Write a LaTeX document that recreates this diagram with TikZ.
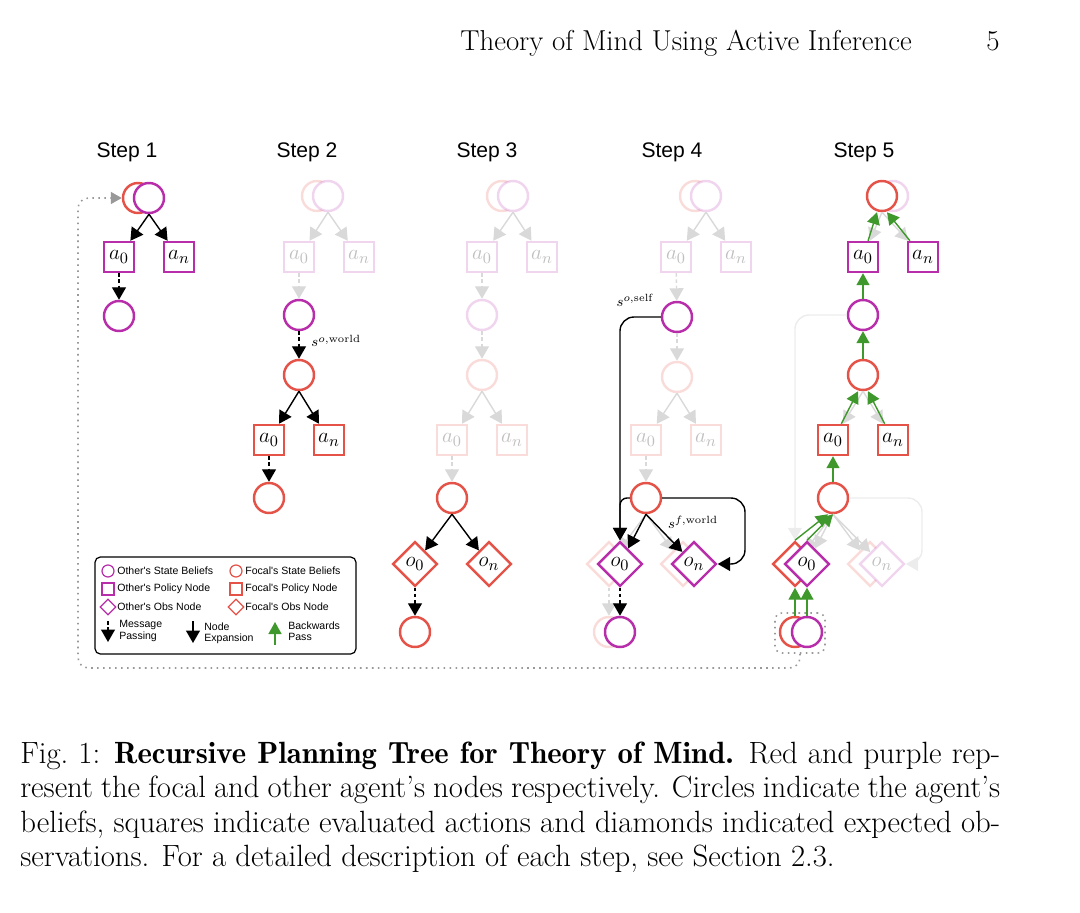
\documentclass[tikz,border=0pt]{standalone}
\usepackage{fontspec}
\newfontfamily\helv{Liberation Sans}
\newfontfamily\demi{lmromandemi10-regular.otf}
\usetikzlibrary{positioning, arrows.meta, shapes.geometric}
\definecolor{othc}{RGB}{184,46,170}
\definecolor{focc}{RGB}{228,82,72}
\definecolor{bpc}{RGB}{62,152,44}

\begin{document}
\begin{tikzpicture}[
            x=0.02cm, y=-0.02cm,
            oc/.style={circle, draw=othc, line width=1.4pt, fill=white, minimum size=0.6cm, inner sep=0pt},
            fc/.style={oc, draw=focc},
            osq/.style={rectangle, draw=othc, line width=1.4pt, fill=white, minimum size=0.6cm, inner sep=0pt, font=\fontsize{13}{15}\selectfont},
            fsq/.style={osq, draw=focc},
            odia/.style={diamond, draw=othc, line width=1.4pt, fill=white, minimum size=0.9cm, inner sep=0pt, font=\fontsize{13}{15}\selectfont},
            fdia/.style={odia, draw=focc},
            faded/.style={draw opacity=0.2, text opacity=0.25},
            expand/.style={-{Triangle[length=2.5mm, width=2.8mm]}, line width=0.8pt},
            msg/.style={expand, dash pattern=on 2pt off 1.5pt},
            fexp/.style={expand, gray!30},
            fmsg/.style={msg, gray!30},
            back/.style={-{Triangle[length=2.4mm, width=2.6mm]}, line width=0.8pt, bpc},
            dotloop/.style={gray!80, line width=0.9pt, dash pattern=on 0.9pt off 2.5pt},
            steplbl/.style={font=\helv\fontsize{12}{14}\selectfont},
            lbl/.style={font=\fontsize{8.5}{10}\selectfont, inner sep=1pt},
            lgtext/.style={font=\helv\fontsize{6}{6.4}\selectfont, anchor=west, align=left, inner sep=0pt}
        ]
            \useasboundingbox (0,0) rectangle (1080,913);
            \node[font=\fontsize{16.4}{18}\selectfont, anchor=base west, inner sep=0pt] (runhead) at (460,50) {Theory of Mind Using Active Inference};
            \node[font=\fontsize{16.4}{18}\selectfont, anchor=base east, inner sep=0pt] (pagenum) at (1000,50) {5};

            % step 1
            \node[steplbl] (st1) at (127,152) {Step 1};
            \node[fc] (s1fr) at (138,198) {};
            \node[oc] (s1or) at (149,198) {};
            \node[osq] (s1a0) at (119,257) {$a_0$};
            \node[osq] (s1an) at (179,257) {$a_n$};
            \node[oc] (s1ob) at (119,316) {};
            \draw[expand] (s1or.south) -- (s1a0);
            \draw[expand] (s1or.south) -- (s1an);
            \draw[msg] (s1a0) -- (s1ob);

            % step 2
            \node[steplbl] (st2) at (307,152) {Step 2};
            \node[fc, faded] (s2fr) at (317,196) {};
            \node[oc, faded] (s2or) at (328,196) {};
            \node[osq, faded] (s2a0) at (299,257) {$a_0$};
            \node[osq, faded] (s2an) at (359,257) {$a_n$};
            \node[oc] (s2ob) at (299,315) {};
            \node[fc] (s2fb) at (299,375) {};
            \node[fsq] (s2b0) at (269,440) {$a_0$};
            \node[fsq] (s2bn) at (329,440) {$a_n$};
            \node[fc] (s2fe) at (269,498) {};
            \draw[fexp] (s2or.south) -- (s2a0);
            \draw[fexp] (s2or.south) -- (s2an);
            \draw[fmsg] (s2a0) -- (s2ob);
            \draw[msg] (s2ob) -- node[lbl, right=2mm, pos=0.35] (s2lbl) {$s^{o,\mathrm{world}}$} (s2fb);
            \draw[expand] (s2fb.south) -- (s2b0);
            \draw[expand] (s2fb.south) -- (s2bn);
            \draw[msg] (s2b0) -- (s2fe);

            % step 3
            \node[steplbl] (st3) at (487,152) {Step 3};
            \node[fc, faded] (s3fr) at (502,196) {};
            \node[oc, faded] (s3or) at (513,196) {};
            \node[osq, faded] (s3a0) at (482,257) {$a_0$};
            \node[osq, faded] (s3an) at (542,257) {$a_n$};
            \node[oc, faded] (s3ob) at (482,315) {};
            \node[fc, faded] (s3fb) at (482,375) {};
            \node[fsq, faded] (s3b0) at (452,440) {$a_0$};
            \node[fsq, faded] (s3bn) at (512,440) {$a_n$};
            \node[fc] (s3fe) at (452,498) {};
            \node[fdia] (s3o0) at (415,564) {$o_0$};
            \node[fdia] (s3on) at (489,564) {$o_n$};
            \node[fc] (s3ff) at (415,632) {};
            \draw[fexp] (s3or.south) -- (s3a0);
            \draw[fexp] (s3or.south) -- (s3an);
            \draw[fmsg] (s3a0) -- (s3ob);
            \draw[fmsg] (s3ob) -- (s3fb);
            \draw[fexp] (s3fb.south) -- (s3b0);
            \draw[fexp] (s3fb.south) -- (s3bn);
            \draw[fmsg] (s3b0) -- (s3fe);
            \draw[expand] (s3fe.south) -- (s3o0);
            \draw[expand] (s3fe.south) -- (s3on);
            \draw[msg] (s3o0) -- (s3ff);

            % step 4
            \node[steplbl] (st4) at (672,152) {Step 4};
            \node[fc, faded] (s4fr) at (695,196) {};
            \node[oc, faded] (s4or) at (706,196) {};
            \node[osq, faded] (s4a0) at (676,257) {$a_0$};
            \node[osq, faded] (s4an) at (736,257) {$a_n$};
            \node[oc] (s4ob) at (677,317) {};
            \node[fc, faded] (s4fb) at (677,377) {};
            \node[fsq, faded] (s4b0) at (646,440) {$a_0$};
            \node[fsq, faded] (s4bn) at (706,440) {$a_n$};
            \node[fc] (s4fe) at (646,498) {};
            \node[fdia, faded] (s4fo0) at (609,564) {};
            \node[fdia, faded] (s4fon) at (683,564) {};
            \draw[fexp] (s4fe.south) -- (s4fo0);
            \draw[fexp] (s4fe.south) -- (s4fon);
            \node[odia] (s4oo0) at (620,564) {$o_0$};
            \node[odia] (s4oon) at (694,564) {$o_n$};
            \node[fc, faded] (s4ffb) at (609,632) {};
            \node[oc] (s4oob) at (620,632) {};
            \coordinate (s4turn) at (745,498);
            \draw[fexp] (s4or.south) -- (s4a0);
            \draw[fexp] (s4or.south) -- (s4an);
            \draw[fmsg] (s4a0) -- (s4ob);
            \draw[fmsg] (s4ob) -- (s4fb);
            \draw[fexp] (s4fb.south) -- (s4b0);
            \draw[fexp] (s4fb.south) -- (s4bn);
            \draw[fmsg] (s4b0) -- (s4fe);
            \draw[fmsg] (s4fo0.south) -- (s4ffb);
            \draw[expand, rounded corners=8pt] (s4ob.west) -| (s4oo0.north);
            \draw[expand, rounded corners=4pt] (s4fe.west) -| (s4oo0.north);
            \draw[expand, rounded corners=8pt] (s4fe.east) -- (s4turn) |- (s4oon.east);
            \draw[expand] (s4fe.south) -- (s4oo0);
            \draw[expand] (s4fe.south) -- (s4oon);
            \draw[msg] (s4oo0) -- (s4oob);
            \node[lbl] (s4lself) at (635,300) {$s^{o,\mathrm{self}}$};
            \node[lbl] (s4lworld) at (693,522) {$s^{f,\mathrm{world}}$};

            % step 5
            \node[steplbl] (st5) at (864,152) {Step 5};
            \node[oc, faded] (s5or) at (893,196) {};
            \node[fc] (s5fr) at (882,196) {};
            \node[osq] (s5a0) at (863,257) {$a_0$};
            \node[osq] (s5an) at (923,257) {$a_n$};
            \node[oc] (s5ob) at (863,315) {};
            \node[fc] (s5fb) at (863,375) {};
            \node[fsq] (s5b0) at (833,440) {$a_0$};
            \node[fsq] (s5bn) at (893,440) {$a_n$};
            \node[fc] (s5fe) at (833,498) {};
            \node[fdia] (s5fo0) at (795,564) {};
            \node[fdia, faded] (s5fon) at (870,564) {};
            \draw[fexp] (s5fe.south) -- (s5fo0);
            \draw[fexp] (s5fe.south) -- (s5fon);
            \node[odia] (s5oo0) at (807,564) {$o_0$};
            \node[odia, faded] (s5oon) at (882,564) {$o_n$};
            \draw[fexp] (s5fe.south) -- (s5oo0);
            \draw[fexp] (s5fe.south) -- (s5oon);
            \node[draw=gray!80, dash pattern=on 0.9pt off 2.5pt, line width=0.9pt, rounded corners=4pt, minimum width=1cm, minimum height=0.8cm] (s5box) at (800,633) {};
            \node[fc] (s5ffb) at (795,632) {};
            \node[oc] (s5oob) at (807,632) {};
            \coordinate (s5turn) at (922,498);
            \draw[fexp] (s5fr.south) -- (s5a0);
            \draw[fexp] (s5fr.south) -- (s5an);
            \draw[fexp] (s5fb.south) -- (s5b0);
            \draw[fexp] (s5fb.south) -- (s5bn);
            \draw[gray!15, line width=0.8pt, rounded corners=8pt, -{Triangle[length=2.5mm, width=2.8mm]}] (s5ob.west) -| (s5fo0.north);
            \draw[gray!15, line width=0.8pt, rounded corners=8pt, -{Triangle[length=2.5mm, width=2.8mm]}] (s5fe.east) -- (s5turn) |- (s5oon.east);
            \draw[back] (s5a0) -- ([xshift=-0.1cm]s5fr.south);
            \draw[back] (s5an) -- ([xshift=0.1cm]s5fr.south);
            \draw[back] (s5ob) -- (s5a0);
            \draw[back] (s5fb) -- (s5ob);
            \draw[back] (s5b0) -- ([xshift=-0.1cm]s5fb.south);
            \draw[back] (s5bn) -- ([xshift=0.1cm]s5fb.south);
            \draw[back] (s5fe) -- (s5b0);
            \draw[back] (s5fo0.north) -- ([xshift=-0.1cm]s5fe.south);
            \draw[back] (s5oo0.north) -- (s5fe.south);
            \draw[back] (s5ffb.north) -- (s5fo0.south);
            \draw[back] (s5oob.north) -- (s5oo0.south);

            % loop back to step 1
            \coordinate (lpcorner) at (78,668);
            \draw[dotloop, rounded corners=6pt, -{Triangle[length=2.2mm, width=2.4mm]}] (s5box.south) |- (lpcorner) |- (s1fr.west);

            % legend
            \node[draw, rounded corners=3pt, line width=0.7pt, minimum width=5.22cm, minimum height=1.94cm] (legend) at (225.5,605.5) {};
            \node[oc, line width=0.7pt, minimum size=0.24cm] (lgoc) at (108,571) {};
            \node[lgtext] (lgoct) at (117,571) {Other's State Beliefs};
            \node[osq, line width=0.7pt, minimum size=0.24cm] (lgos) at (108,589) {};
            \node[lgtext] (lgost) at (117,589) {Other's Policy Node};
            \node[odia, line width=0.7pt, minimum size=0.32cm] (lgod) at (108,607) {};
            \node[lgtext] (lgodt) at (117,607) {Other's Obs Node};
            \node[fc, line width=0.7pt, minimum size=0.24cm] (lgfc) at (236,571) {};
            \node[lgtext] (lgfct) at (245,571) {Focal's State Beliefs};
            \node[fsq, line width=0.7pt, minimum size=0.24cm] (lgfs) at (236,589) {};
            \node[lgtext] (lgfst) at (245,589) {Focal's Policy Node};
            \node[fdia, line width=0.7pt, minimum size=0.32cm] (lgfd) at (236,607) {};
            \node[lgtext] (lgfdt) at (245,607) {Focal's Obs Node};
            \coordinate (lgmA) at (108,621);
            \coordinate (lgmB) at (108,642);
            \draw[msg] (lgmA) -- (lgmB);
            \node[lgtext] (lgmt) at (119,631) {Message\\Passing};
            \coordinate (lgeA) at (193,621);
            \coordinate (lgeB) at (193,643);
            \draw[expand] (lgeA) -- (lgeB);
            \node[lgtext] (lget) at (204,633) {Node\\Expansion};
            \coordinate (lgbA) at (275,645);
            \coordinate (lgbB) at (275,622);
            \draw[back] (lgbA) -- (lgbB);
            \node[lgtext] (lgbt) at (288,631) {Backwards\\Pass};

            % caption
            \node[anchor=north west, text width=19.6cm, align=justify, inner sep=0pt, font=\fontsize{17.5}{19.4}\selectfont] (caption) at (20,742) {Fig.~1: {\demi Recursive Planning Tree for Theory of Mind.} Red and purple rep-\linebreak resent the focal and other agent's nodes respectively. Circles indicate the agent's\linebreak beliefs, squares indicate evaluated actions and diamonds indicated expected ob-\linebreak servations. For a detailed description of each step, see Section 2.3.};
        \end{tikzpicture}
\end{document}
